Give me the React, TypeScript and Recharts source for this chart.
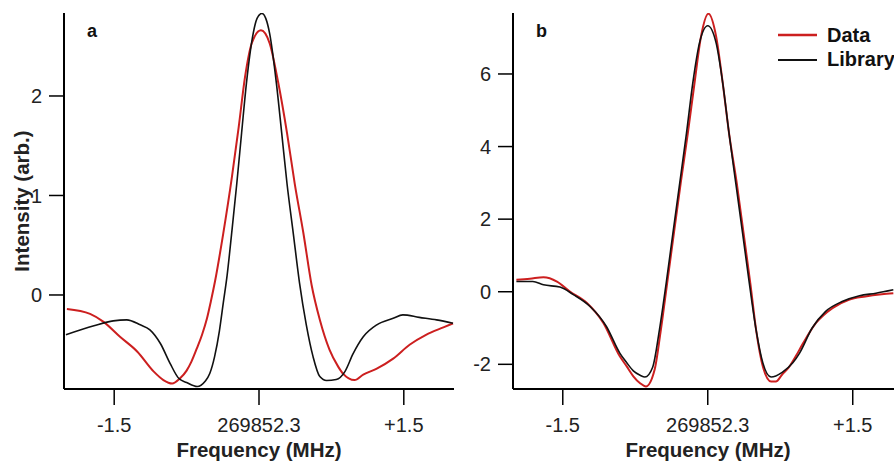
import { LineChart, Line, XAxis, YAxis } from "recharts";

// frequency offsets (MHz) from 269852.3 and intensities (arb.)
const aLibFreq = [-2.0, -1.71, -1.51, -1.37, -1.23, -1.13, -1.02, -0.92, -0.83, -0.75, -0.64, -0.56, -0.51, -0.46, -0.41, -0.37, -0.33, -0.28, -0.23, -0.18, -0.13, -0.06, -0.02, 0.03, 0.07, 0.11, 0.18, 0.235, 0.29, 0.355, 0.42, 0.49, 0.56, 0.63, 0.7, 0.8, 0.89, 0.975, 1.08, 1.22, 1.39, 1.49, 1.66, 1.84, 2.01];
const aLibVal = [-0.4, -0.31, -0.26, -0.25, -0.3, -0.35, -0.49, -0.69, -0.84, -0.88, -0.92, -0.87, -0.79, -0.62, -0.36, -0.08, 0.2, 0.65, 1.12, 1.63, 2.13, 2.63, 2.78, 2.83, 2.78, 2.63, 2.13, 1.63, 1.12, 0.62, 0.12, -0.3, -0.62, -0.82, -0.86, -0.85, -0.77, -0.59, -0.42, -0.3, -0.235, -0.2, -0.225, -0.25, -0.285];

const aDataFreq = [-1.99, -1.75, -1.61, -1.44, -1.26, -1.09, -0.99, -0.9, -0.82, -0.75, -0.7, -0.645, -0.59, -0.54, -0.5, -0.455, -0.37, -0.28, -0.21, -0.145, -0.075, 0.02, 0.11, 0.2, 0.29, 0.37, 0.46, 0.545, 0.63, 0.73, 0.82, 0.87, 0.99, 1.08, 1.22, 1.39, 1.56, 1.73, 1.91, 2.01];
const aDataVal = [-0.14, -0.19, -0.27, -0.42, -0.57, -0.77, -0.855, -0.89, -0.84, -0.76, -0.67, -0.54, -0.4, -0.24, -0.07, 0.14, 0.62, 1.19, 1.69, 2.19, 2.53, 2.66, 2.53, 2.13, 1.63, 1.12, 0.62, 0.1, -0.25, -0.55, -0.72, -0.79, -0.855, -0.8, -0.74, -0.64, -0.5, -0.4, -0.325, -0.285];

const bLibFreq = [-1.98, -1.81, -1.7, -1.53, -1.39, -1.22, -1.05, -0.91, -0.84, -0.77, -0.7, -0.65, -0.57, -0.5, -0.43, -0.36, -0.29, -0.22, -0.155, -0.086, 0, 0.087, 0.155, 0.22, 0.29, 0.36, 0.43, 0.5, 0.57, 0.655, 0.77, 0.88, 0.95, 1.08, 1.22, 1.39, 1.57, 1.74, 1.92];
const bLibVal = [0.28, 0.28, 0.19, 0.13, -0.08, -0.4, -0.95, -1.69, -1.95, -2.18, -2.3, -2.35, -2.08, -1.05, 0.24, 1.62, 2.99, 4.37, 5.75, 6.85, 7.33, 6.85, 5.75, 4.37, 2.99, 1.62, 0.24, -1.05, -1.96, -2.35, -2.22, -1.96, -1.69, -1.0, -0.54, -0.27, -0.11, -0.04, 0.055];

const bDataFreq = [-1.98, -1.84, -1.7, -1.56, -1.43, -1.25, -1.08, -0.91, -0.84, -0.77, -0.7, -0.64, -0.55, -0.49, -0.42, -0.35, -0.28, -0.206, -0.137, -0.07, 0.007, 0.087, 0.155, 0.22, 0.3, 0.37, 0.44, 0.505, 0.57, 0.655, 0.705, 0.77, 0.84, 0.91, 0.98, 1.12, 1.29, 1.46, 1.63, 1.8, 1.92];
const bDataVal = [0.33, 0.36, 0.4, 0.28, 0.01, -0.31, -0.86, -1.78, -2.05, -2.33, -2.52, -2.61, -2.15, -1.14, 0.24, 1.62, 2.99, 4.37, 5.75, 7.03, 7.66, 7.03, 5.75, 4.37, 2.99, 1.62, 0.24, -1.14, -2.06, -2.47, -2.47, -2.28, -2.08, -1.78, -1.45, -0.86, -0.45, -0.22, -0.13, -0.07, -0.04];

const xTicks = [-1.5, 0, 1.5];
const aYTicks = [0, 1, 2];
const bYTicks = [-2, 0, 2, 4, 6];

const FONT = "'Liberation Sans', Arial, sans-serif";
const RED = "#cc1f1f";
const BLACK = "#111111";

const toPoints = (fs: number[], vs: number[]) => fs.map((f, i) => ({ f, v: vs[i] }));

const fmtFreq = (t: number) => (t === 0 ? "269852.3" : t > 0 ? `+${t}` : `${t}`);

const tickStyle = { fontSize: 20, fill: "#222", fontFamily: FONT };

const XTitle = () => (
  <text x={259} y={457} textAnchor="middle" fontFamily={FONT} fontSize={20.5} fontWeight="bold" fill="#222">
    Frequency (MHz)
  </text>
);

const YTitle = ({ viewBox }: any) => {
  const cx = 21;
  const cy = viewBox.y + viewBox.height / 2;
  return (
    <text x={cx} y={cy} transform={`rotate(-90 ${cx} ${cy})`} textAnchor="middle" dominantBaseline="central" fontFamily={FONT} fontSize={20.5} fontWeight="bold" fill="#222">
      Intensity (arb.)
    </text>
  );
};

function Panel({ letter, lib, data, yDomain, yTicks, xDomain, showYTitle, showLegend }: any) {
  return (
    <LineChart width={460} height={461} margin={{ top: 13, right: 6, bottom: 0, left: 0 }}>
      <XAxis
        type="number"
        dataKey="f"
        domain={xDomain}
        ticks={xTicks}
        allowDataOverflow
        tickFormatter={fmtFreq}
        height={72}
        tickSize={16}
        tickMargin={13}
        tick={tickStyle}
        axisLine={{ stroke: "#000", strokeWidth: 2 }}
        tickLine={{ stroke: "#000", strokeWidth: 1.5 }}
        label={{ content: XTitle }}
      />
      <YAxis
        type="number"
        dataKey="v"
        domain={yDomain}
        ticks={yTicks}
        allowDataOverflow
        width={64}
        tickSize={15}
        tickMargin={7}
        tick={tickStyle}
        axisLine={{ stroke: "#000", strokeWidth: 2 }}
        tickLine={{ stroke: "#000", strokeWidth: 1.5 }}
        label={showYTitle ? { content: YTitle } : undefined}
      />
      <Line data={data} dataKey="v" type="monotone" stroke={RED} strokeWidth={2} dot={false} isAnimationActive={false} />
      <Line data={lib} dataKey="v" type="monotone" stroke={BLACK} strokeWidth={1.6} dot={false} isAnimationActive={false} />
      <text x={87} y={37} fontFamily={FONT} fontSize={18} fontWeight="bold" fill="#111">
        {letter}
      </text>
      {showLegend && (
        <g fontFamily={FONT} fontSize={20} fontWeight="bold" fill="#111">
          <line x1={329} x2={368} y1={35} y2={35} stroke={RED} strokeWidth={2.5} />
          <text x={378} y={42}>Data</text>
          <line x1={329} x2={368} y1={60} y2={60} stroke={BLACK} strokeWidth={1.8} />
          <text x={378} y={66}>Library</text>
        </g>
      )}
    </LineChart>
  );
}

export default function App() {
  return (
    <div style={{ position: "absolute", left: 0, top: 0, width: 894, height: 461, overflow: "hidden", background: "#fff" }}>
      <div style={{ position: "absolute", left: 0, top: 0 }}>
        <Panel
          letter="a"
          lib={toPoints(aLibFreq, aLibVal)}
          data={toPoints(aDataFreq, aDataVal)}
          xDomain={[-2.02, 2.02]}
          yDomain={[-0.945, 2.834]}
          yTicks={aYTicks}
          showYTitle
        />
      </div>
      <div style={{ position: "absolute", left: 449, top: 0 }}>
        <Panel
          letter="b"
          lib={toPoints(bLibFreq, bLibVal)}
          data={toPoints(bDataFreq, bDataVal)}
          xDomain={[-2.015, 2.02]}
          yDomain={[-2.68, 7.68]}
          yTicks={bYTicks}
          showLegend
        />
      </div>
    </div>
  );
}
